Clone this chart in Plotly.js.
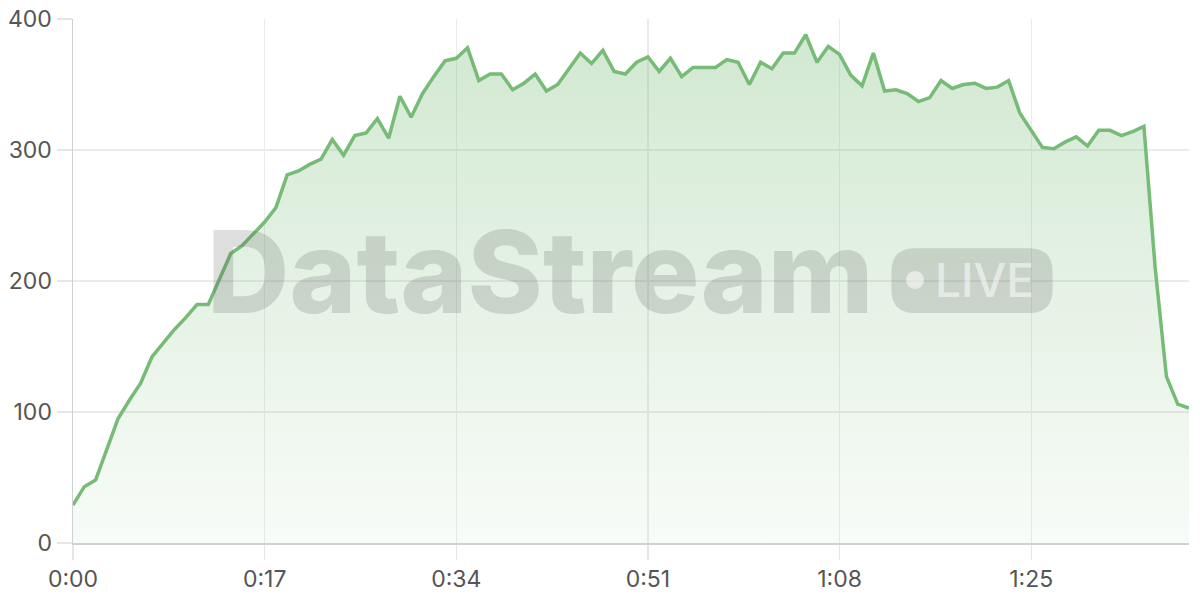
<!DOCTYPE html>
<html>
<head>
<meta charset="utf-8">
<script src="https://cdn.plot.ly/plotly-3.0.1.min.js"></script>
<style>html,body{margin:0;padding:0;background:#fff;}#chart{width:1200px;height:600px;}</style>
</head>
<body>
<div id="chart"></div>
<script>
const seconds = [];
for (let i = 0; i < 100; i++) seconds.push(i);
const values = [29,43,48,72,95,109,122,142,153,163,
  172,182,182,201,221,227,236,245,256,281,
  284,289,293,308,296,311,313,324,309,341,
  325,343,356,368,370,378,353,358,358,346,
  351,358,345,350,362,374,366,376,360,358,
  367,371,360,370,356,363,363,363,369,367,
  350,367,362,374,374,388,367,379,373,357,
  349,374,345,346,343,337,340,353,347,350,
  351,347,348,353,328,315,302,301,306,310,
  303,315,315,311,314,318,210,127,106,103];
const tickVals = [0,17,34,51,68,85];
const tickLabels = ["0:00","0:17","0:34","0:51","1:08","1:25"];
const yTicks = [0,100,200,300,400];

const FONT = "Inter, 'Open Sans', sans-serif";
const pill = {x0:72.6, x1:86.9, y0:175.6, y1:225, rx:2.1, ry:18};
const p = pill;
const pillPath = `M ${p.x0+p.rx},${p.y0} L ${p.x1-p.rx},${p.y0} Q ${p.x1},${p.y0} ${p.x1},${p.y0+p.ry} L ${p.x1},${p.y1-p.ry} Q ${p.x1},${p.y1} ${p.x1-p.rx},${p.y1} L ${p.x0+p.rx},${p.y1} Q ${p.x0},${p.y1} ${p.x0},${p.y1-p.ry} L ${p.x0},${p.y0+p.ry} Q ${p.x0},${p.y0} ${p.x0+p.rx},${p.y0} Z`;

const trace = {
  x: seconds, y: values, type: 'scatter', mode: 'lines',
  line: {color: '#76bb76', width: 3.5},
  fill: 'tozeroy',
  fillgradient: {type: 'vertical', colorscale: [[0,'rgba(118,186,118,0.05)'],[1,'rgba(118,186,118,0.33)']]},
  hoverinfo: 'skip'
};

const layout = {
  width: 1200, height: 600,
  margin: {l: 73, r: 11, t: 19, b: 57},
  paper_bgcolor: '#fff', plot_bgcolor: '#fff',
  showlegend: false,
  font: {family: FONT, size: 23, color: '#555'},
  xaxis: {
    range: [0, 99], tickvals: tickVals, ticktext: tickLabels,
    showgrid: true, gridcolor: '#ebebeb', gridwidth: 1.2,
    ticks: 'outside', ticklen: 15, tickcolor: '#e6e6e6', tickwidth: 1.2,
    showline: true, linecolor: '#d0d0d0', linewidth: 1.5,
    zeroline: false, tickfont: {family: FONT, size: 23, color: '#555'}
  },
  yaxis: {
    range: [0, 400], tickvals: yTicks,
    showgrid: true, gridcolor: '#ebebeb', gridwidth: 1.2,
    ticks: 'outside', ticklen: 15, tickcolor: '#e6e6e6', tickwidth: 1.2,
    showline: true, linecolor: '#d0d0d0', linewidth: 1.5,
    zeroline: false, tickfont: {family: FONT, size: 23, color: '#555'}
  },
  shapes: [
    {type: 'path', path: pillPath, xref: 'x', yref: 'y', fillcolor: 'rgba(90,90,90,0.2)', line: {width: 0}},
    {type: 'circle', xref: 'x', yref: 'y', x0: 73.9, x1: 75.5, y0: 193.9, y1: 207.7, fillcolor: 'rgba(255,255,255,0.55)', line: {width: 0}}
  ],
  annotations: [
    {x: 41.4, y: 207, xref: 'x', yref: 'y', text: 'DataStream', showarrow: false,
     xanchor: 'center', yanchor: 'middle',
     font: {family: FONT, size: 114, weight: 800, color: 'rgba(90,90,90,0.2)'}},
    {x: 80.9, y: 200.8, xref: 'x', yref: 'y', text: 'LIVE', showarrow: false,
     xanchor: 'center', yanchor: 'middle',
     font: {family: FONT, size: 46, weight: 500, color: 'rgba(255,255,255,0.55)'}}
  ]
};

Plotly.newPlot('chart', [trace], layout, {staticPlot: true, displayModeBar: false});
</script>
</body>
</html>
